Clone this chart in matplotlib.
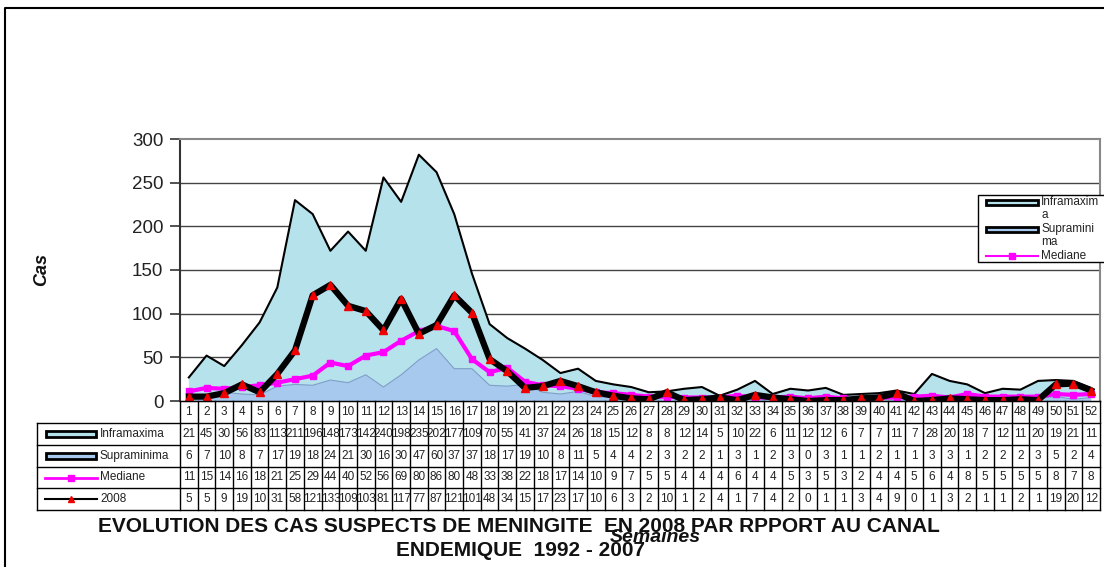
import matplotlib
matplotlib.use("Agg")
import matplotlib.pyplot as plt
from matplotlib.patches import Rectangle
import numpy as np

plt.rcParams['font.family'] = ['Liberation Sans', 'DejaVu Sans']

weeks = list(range(1, 53))
inframaxima = [21,45,30,56,83,113,211,196,148,173,142,240,198,235,202,177,109,70,55,41,37,24,26,18,15,12,8,8,12,14,5,10,22,6,11,12,12,6,7,7,11,7,28,20,18,7,12,11,20,19,21,11]
supraminima = [6,7,10,8,7,17,19,18,24,21,30,16,30,47,60,37,37,18,17,19,10,8,11,5,4,4,2,3,2,2,1,3,1,2,3,0,3,1,1,2,1,1,3,3,1,2,2,2,3,5,2,4]
mediane = [11,15,14,16,18,21,25,29,44,40,52,56,69,80,86,80,48,33,38,22,18,17,14,10,9,7,5,5,4,4,4,6,4,4,5,3,5,3,2,4,4,5,6,4,8,5,5,5,5,8,7,8]
cas2008 = [5,5,9,19,10,31,58,121,133,109,103,81,117,77,87,121,101,48,34,15,17,23,17,10,6,3,2,10,1,2,4,1,7,4,2,0,1,1,3,4,9,0,1,3,2,1,1,2,1,19,20,12]
row_labels = ["Inframaxima", "Supraminima", "Mediane", "2008"]
yticks = [0, 50, 100, 150, 200, 250, 300]

W, H = 1104, 567
fig = plt.figure(figsize=(W/100, H/100), dpi=100)

def rect(x0, y0, x1, y1):
    return [x0/W, 1 - y1/H, (x1-x0)/W, (y1-y0)/H]

# outer frame
frame = fig.add_axes([0, 0, 1, 1], zorder=-5)
frame.set_xlim(0, W); frame.set_ylim(H, 0); frame.axis('off')
frame.plot([5, 5, W+5], [H+5, 8, 8], color='black', lw=1.5, clip_on=False)

PX0, PX1, PY0, PY1 = 180, 1100, 139, 401
ax = fig.add_axes(rect(PX0, PY0, PX1, PY1))
x = np.array(weeks)
sup = np.array(supraminima)
inf = np.array(inframaxima)
ax.fill_between(x, 0, sup + inf, facecolor='#b6e2ec', edgecolor='none', zorder=1)
ax.plot(x, sup + inf, color='black', lw=1.5, zorder=2)
ax.fill_between(x, 0, sup, facecolor='#a8c9ee', edgecolor='none', zorder=2)
ax.plot(x, sup, color='#7f9fc8', lw=0.8, zorder=2)
ax.plot(x, mediane, color='#ff00ff', lw=3, marker='s', ms=4, zorder=3)
ax.plot(x, cas2008, color='black', lw=4.5, zorder=4)
ax.plot(x, cas2008, ls='none', marker='^', ms=6, color='#ee0000', zorder=5)

ax.set_xlim(0.5, 52.5)
ax.set_ylim(0, 300)
ax.set_yticks(yticks)
ax.set_yticklabels([str(v) for v in yticks], fontsize=13.5, color='#222222')
ax.tick_params(axis='y', direction='out', length=7, width=1.2, pad=5, color='#333333')
ax.set_xticks([])
for v in yticks[1:-1]:
    ax.axhline(v, color='#444444', lw=1, zorder=0)
for s in ['top', 'right']:
    ax.spines[s].set_color('#888888'); ax.spines[s].set_linewidth(1.5)
ax.spines['left'].set_color('#333333'); ax.spines['left'].set_linewidth(1.5)
ax.spines['bottom'].set_color('black')

# data table
TX0, TX1, TY0, TY1 = 37, 1100, 401, 510
tab = fig.add_axes(rect(TX0, TY0, TX1, TY1), zorder=3)
upp = 52 / (PX1 - PX0)
xl = 0.5 - (PX0 - TX0) * upp
tab.set_xlim(xl, 52.5)
tab.set_ylim(TY1, TY0)
tab.axis('off')
row_edges = [401, 423, 445, 467, 488, 510]
tab.plot([0.5, 52.5], [row_edges[0]]*2, color='black', lw=1, clip_on=False)
for yy in row_edges[1:]:
    tab.plot([xl, 52.5], [yy, yy], color='black', lw=1, clip_on=False)
for k in range(53):
    tab.plot([k + 0.5]*2, [row_edges[0], row_edges[-1]], color='black', lw=1, clip_on=False)
tab.plot([xl]*2, [row_edges[1], row_edges[-1]], color='black', lw=1, clip_on=False)

for w in weeks:
    tab.text(w, (row_edges[0] + row_edges[1]) / 2, str(w), ha='center', va='center', fontsize=8.5, color='#222222')
series = [inframaxima, supraminima, mediane, cas2008]
for r, vals in enumerate(series):
    yc = (row_edges[r+1] + row_edges[r+2]) / 2
    for w, v in zip(weeks, vals):
        tab.text(w, yc, str(v), ha='center', va='center', fontsize=8.5, color='#222222')

key_cols = ['#b6e2ec', '#a8c9ee']
for r, lab in enumerate(row_labels):
    yc = (row_edges[r+1] + row_edges[r+2]) / 2
    if r < 2:
        frame.add_patch(Rectangle((46, yc - 3), 50, 6, facecolor=key_cols[r], edgecolor='black', lw=2, zorder=6))
    elif r == 2:
        frame.plot([45, 97], [yc, yc], color='#ff00ff', lw=2, zorder=6)
        frame.plot([71], [yc], marker='s', ms=5, color='#ff00ff', zorder=6)
    else:
        frame.plot([45, 97], [yc, yc], color='black', lw=1.5, zorder=6)
        frame.plot([71], [yc], marker='^', ms=4, color='#ee0000', zorder=6)
    frame.text(100, yc, lab, ha='left', va='center', fontsize=8.5, color='#222222', zorder=6)
frame.set_zorder(4)
frame.patch.set_alpha(0)

# legend box top right
frame.add_patch(Rectangle((978, 195), 140, 67, facecolor='white', edgecolor='black', lw=1, zorder=7))
leg_items = [(202, 'Inframaxim', 'a', 0), (229, 'Supramini', 'ma', 1), (256, 'Mediane', None, 2)]
for yc, t1, t2, k in leg_items:
    if k < 2:
        frame.add_patch(Rectangle((986, yc - 2.5), 52, 5, facecolor=key_cols[k], edgecolor='black', lw=2, zorder=8))
    else:
        frame.plot([986, 1038], [yc, yc], color='#ff00ff', lw=1.5, zorder=8)
        frame.plot([1012], [yc], marker='s', ms=4, color='#ff00ff', zorder=8)
    frame.text(1041, yc, t1, ha='left', va='center', fontsize=8.5, color='#222222', zorder=8)
    if t2:
        frame.text(1041, yc + 13, t2, ha='left', va='center', fontsize=8.5, color='#222222', zorder=8)

# titles and labels
frame.text(42, 270, "Cas", rotation=90, ha='center', va='center', fontsize=13, fontweight='bold', fontstyle='italic', color='#111111')
frame.text(519, 527, "EVOLUTION DES CAS SUSPECTS DE MENINGITE  EN 2008 PAR RPPORT AU CANAL", ha='center', va='center', fontsize=15, fontweight='bold', color='#111111')
frame.text(520, 551, "ENDEMIQUE  1992 - 2007", ha='center', va='center', fontsize=15, fontweight='bold', color='#111111')
frame.text(655, 537, "Semaines", ha='center', va='center', fontsize=14, fontweight='bold', fontstyle='italic', color='#111111')

fig.savefig("out.png", dpi=100)
